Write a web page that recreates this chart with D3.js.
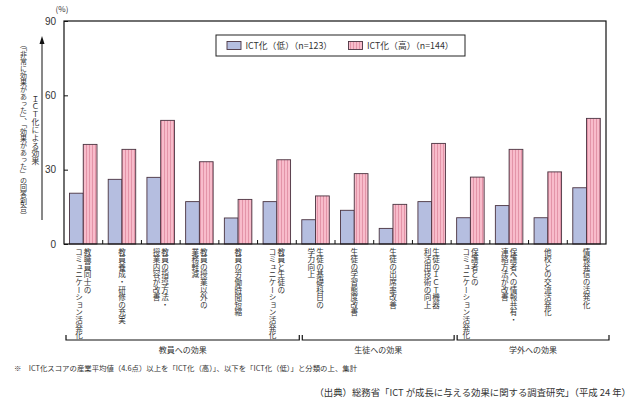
<!DOCTYPE html>
<html><head><meta charset="utf-8">
<script src="https://cdn.jsdelivr.net/npm/d3@7"></script>
<style>
html,body{margin:0;padding:0;background:#fff;}
svg text{font-family:"Noto Sans CJK JP","Noto Sans",sans-serif;fill:#333;}
.vt{writing-mode:vertical-rl;text-orientation:upright;}
</style></head>
<body>
<script>
const categories = [
  ["教職員同士の","コミュニケーション活発化"],
  ["教員養成・研修の充実"],
  ["教員の指導方法・","授業内容が改善"],
  ["教員の授業以外の","業務軽減"],
  ["教員の労働時間短縮"],
  ["教員と生徒の","コミュニケーション活発化"],
  ["生徒の基礎科目の","学力向上"],
  ["生徒の学習態度改善"],
  ["生徒の出席率改善"],
  ["生徒のＩＣＴ機器","利活用技術の向上"],
  ["保護者との","コミュニケーション活発化"],
  ["保護者への情報共有・","連絡方法が改善"],
  ["他校との交流活発化"],
  ["情報発信の活発化"]
];
const seriesNames = ["ICT化（低）（n=123）","ICT化（高）（n=144）"];
const lowValues  = [20.5,26.1,26.9,17.1,10.5,17.1,9.8,13.6,6.3,17.1,10.6,15.5,10.6,22.7];
const highValues = [40.2,38.2,49.9,33.2,18.0,34.0,19.4,28.4,16.0,40.6,27.0,38.2,29.1,50.7];
const yTicks = [0,30,60,90];
const groups = [
  {name:"教員への効果", from:0, to:5},
  {name:"生徒への効果", from:6, to:9},
  {name:"学外への効果", from:10, to:13}
];
const yTitle1 = "ＩＣＴ化による効果";
const yTitle2 = "（「非常に効果があった」、「効果があった」の回答割合）";
const footnote = "※　ICT化スコアの産業平均値（4.6点）以上を「ICT化（高）」、以下を「ICT化（低）」と分類の上、集計";
const source = "（出典）総務省「ICT が成長に与える効果に関する調査研究」（平成 24 年）";

const W=640,H=401;
const L=64,R=606,T=21,B=244;
const svg=d3.select("body").append("svg").attr("width",W).attr("height",H);
const defs=svg.append("defs");
const pat=defs.append("pattern").attr("id","stripe").attr("patternUnits","userSpaceOnUse")
  .attr("width",3).attr("height",4);
pat.append("rect").attr("width",3).attr("height",4).attr("fill","#f8bccb");
pat.append("rect").attr("x",2).attr("width",1).attr("height",4).attr("fill","#e394a8");

const idx=d3.range(categories.length);
const x0=d3.scaleBand().domain(idx).range([L,R]).padding(0);
const x1=d3.scaleBand().domain([0,1]).range([5.5,33]);
const y=d3.scaleLinear().domain([0,90]).range([B,T]);
const colors=["#b5bee0","url(#stripe)"];
const vals=[lowValues,highValues];

// bars
idx.forEach(i=>{
  [0,1].forEach(s=>{
    svg.append("rect")
      .attr("x",x0(i)+x1(s)).attr("y",y(vals[s][i]))
      .attr("width",x1.bandwidth()).attr("height",B-y(vals[s][i]))
      .attr("fill",colors[s]).attr("stroke","#4a3340").attr("stroke-width",0.9);
  });
});

// frame
svg.append("rect").attr("x",L).attr("y",T).attr("width",R-L).attr("height",B-T)
  .attr("fill","none").attr("stroke","#111").attr("stroke-width",1.2);

// y axis
const yAxis=d3.axisLeft(y).tickValues(yTicks).tickSize(-4).tickPadding(8);
const ga=svg.append("g").attr("transform",`translate(${L},0)`).call(yAxis);
ga.select(".domain").remove();
ga.selectAll("line").attr("stroke","#111");
ga.selectAll("text").attr("font-size",10).style("fill","#333")
  .style("font-family","Liberation Sans, Arial, sans-serif");

// x ticks (inward, between categories)
d3.range(1,categories.length).forEach(i=>{
  svg.append("line").attr("x1",x0(i)).attr("x2",x0(i)).attr("y1",B).attr("y2",B-4)
    .attr("stroke","#111");
});

svg.append("text").attr("x",62).attr("y",12).attr("text-anchor","middle")
  .attr("font-size",8).text("(%)");

// category labels (vertical writing)
const fs=7.6;
idx.forEach(i=>{
  const c=x0(i)+x0.bandwidth()/2;
  const cols=categories[i];
  const n=cols.length, gap=8.6;
  cols.forEach((t,k)=>{
    const xx=c+((n-1)/2-k)*gap;
    svg.append("text").attr("class","vt").attr("x",xx).attr("y",248)
      .attr("font-size",fs).text(t);
  });
});

// group brackets
groups.forEach((g,gi)=>{
  const a=x0(g.from)+(gi===0?2:6), b=x0(g.to)+x0.bandwidth()+3;
  svg.append("path").attr("d",`M${a},335V340H${b}V335`).attr("fill","none")
    .attr("stroke","#111").attr("stroke-width",1.2);
  svg.append("text").attr("x",(a+b)/2).attr("y",353).attr("text-anchor","middle")
    .attr("font-size",8).text(g.name);
});

// legend
svg.append("rect").attr("x",216).attr("y",35).attr("width",249).attr("height",21)
  .attr("fill","#fff").attr("stroke","#222").attr("stroke-width",1);
[[227,0],[348.5,1]].forEach(([lx,s])=>{
  svg.append("rect").attr("x",lx).attr("y",41.5).attr("width",14).attr("height",8)
    .attr("fill",colors[s]).attr("stroke","#4a3340").attr("stroke-width",0.9);
  svg.append("text").attr("x",lx+18.5).attr("y",49).attr("font-size",8.8).text(seriesNames[s]);
});

// y title (vertical)
svg.append("text").attr("class","vt").attr("x",35.5).attr("y",130).attr("text-anchor","middle")
  .attr("font-size",7.8).text(yTitle1);
svg.append("text").attr("class","vt").attr("x",23.5).attr("y",130).attr("text-anchor","middle")
  .attr("font-size",7).text(yTitle2);
svg.append("line").attr("x1",42).attr("x2",42).attr("y1",220).attr("y2",42)
  .attr("stroke","#111").attr("stroke-width",1);
svg.append("path").attr("d","M42,36L39.5,44L44.5,44Z").attr("fill","#111");

// footnotes
svg.append("text").attr("x",14).attr("y",371).attr("font-size",7.4).text(footnote);
svg.append("text").attr("x",631).attr("y",396).attr("text-anchor","end")
  .attr("font-size",9.4).text(source);
</script>
</body></html>
